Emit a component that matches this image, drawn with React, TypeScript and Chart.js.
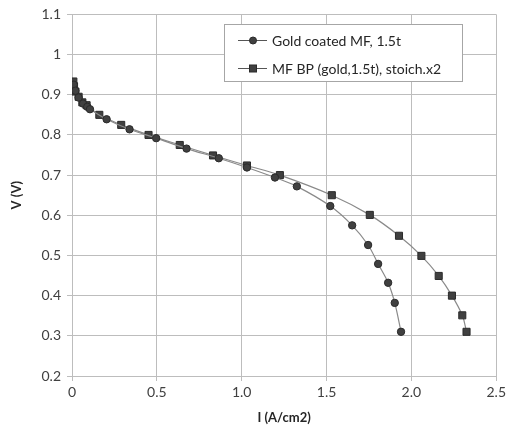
import React, { useEffect, useRef } from "react";
import { Chart, registerables } from "chart.js";

Chart.register(...registerables);

const goldI = [0.01, 0.02, 0.039, 0.065, 0.09, 0.106, 0.204, 0.339, 0.496, 0.675, 0.865, 1.031, 1.196, 1.325, 1.522, 1.651, 1.745, 1.804, 1.863, 1.902, 1.939];
const goldV = [0.925, 0.91, 0.893, 0.878, 0.87, 0.864, 0.839, 0.814, 0.792, 0.766, 0.742, 0.719, 0.694, 0.672, 0.623, 0.575, 0.526, 0.479, 0.432, 0.382, 0.31];

const bpI = [0.008, 0.012, 0.02, 0.039, 0.061, 0.086, 0.161, 0.29, 0.451, 0.635, 0.831, 1.031, 1.225, 1.531, 1.755, 1.927, 2.059, 2.161, 2.239, 2.3, 2.325];
const bpV = [0.933, 0.921, 0.908, 0.895, 0.881, 0.874, 0.85, 0.825, 0.8, 0.775, 0.749, 0.724, 0.7, 0.65, 0.601, 0.549, 0.499, 0.449, 0.4, 0.351, 0.31];

const seriesNames = ["Gold coated MF, 1.5t", "MF BP (gold,1.5t), stoich.x2"];
const xTitle = "I (A/cm2)";
const yTitle = "V (V)";

const FONT = "Lato, 'Open Sans', sans-serif";
const MARK = "#404040";
const MARK_BORDER = "#2a2a2a";
const LINE = "#8a8a8a";
const GRID = "#bdbdbd";

const legendPlugin = {
  id: "boxLegend",
  afterDraw(chart: any) {
    const ctx = chart.ctx;
    const left = 224, top = 24, w = 238, h = 57;
    ctx.save();
    ctx.fillStyle = "#ffffff";
    ctx.fillRect(left, top, w, h);
    ctx.strokeStyle = "#a6a6a6";
    ctx.lineWidth = 1;
    ctx.strokeRect(left + 0.5, top + 0.5, w, h);
    const rows = [40, 68];
    rows.forEach((y, i) => {
      ctx.strokeStyle = "#555555";
      ctx.beginPath();
      ctx.moveTo(238, y + 0.5);
      ctx.lineTo(267, y + 0.5);
      ctx.stroke();
      ctx.fillStyle = MARK;
      ctx.strokeStyle = MARK_BORDER;
      if (i === 0) {
        ctx.beginPath();
        ctx.arc(253, y + 0.5, 3.5, 0, Math.PI * 2);
        ctx.fill();
        ctx.stroke();
      } else {
        ctx.fillRect(249.5, y - 3, 7, 7);
        ctx.strokeRect(249.5, y - 3, 7, 7);
      }
      ctx.fillStyle = "#262626";
      ctx.font = "14px " + FONT;
      ctx.textBaseline = "middle";
      ctx.textAlign = "left";
      ctx.fillText(seriesNames[i], 272, y + 1);
    });
    ctx.restore();
  },
};

export default function App() {
  const ref = useRef<HTMLCanvasElement>(null);
  useEffect(() => {
    if (!ref.current) return;
    const mk = (xs: number[], ys: number[]) => xs.map((x, i) => ({ x, y: ys[i] }));
    const chart = new Chart(ref.current, {
      type: "scatter",
      data: {
        datasets: [
          {
            label: seriesNames[0],
            data: mk(goldI, goldV),
            showLine: true,
            tension: 0.35,
            borderColor: LINE,
            borderWidth: 1.2,
            pointStyle: "circle",
            pointRadius: 3.7,
            pointBackgroundColor: MARK,
            pointBorderColor: MARK_BORDER,
            pointBorderWidth: 1,
          },
          {
            label: seriesNames[1],
            data: mk(bpI, bpV),
            showLine: true,
            tension: 0.35,
            borderColor: LINE,
            borderWidth: 1.2,
            pointStyle: "rect",
            pointRadius: 5,
            pointBackgroundColor: MARK,
            pointBorderColor: MARK_BORDER,
            pointBorderWidth: 1,
          },
        ],
      },
      options: {
        animation: false,
        responsive: false,
        maintainAspectRatio: false,
        layout: { padding: { top: 13, right: 12, left: 0, bottom: 0 } },
        plugins: { legend: { display: false }, tooltip: { enabled: false } },
        scales: {
          x: {
            type: "linear",
            min: 0,
            max: 2.5,
            ticks: { stepSize: 0.5, color: "#404040", font: { family: FONT, size: 14 }, padding: 3, maxRotation: 0 },
            grid: { color: GRID, tickLength: 5, lineWidth: 1 },
            border: { color: GRID },
            title: { display: true, text: xTitle, color: "#262626", font: { family: FONT, size: 13, weight: "bold" }, padding: { top: 3 } },
            afterFit: (s: any) => { s.height = 54; },
          },
          y: {
            type: "linear",
            min: 0.2,
            max: 1.1,
            ticks: { stepSize: 0.1, color: "#404040", font: { family: FONT, size: 14 }, padding: 6, callback: (v: any) => String(Math.round(v * 10) / 10) },
            grid: { color: GRID, tickLength: 5, lineWidth: 1 },
            border: { color: GRID },
            title: { display: true, text: yTitle, color: "#262626", font: { family: FONT, size: 13, weight: "bold" }, padding: { top: 9, bottom: 4 } },
            afterFit: (s: any) => { s.width = 72; },
          },
        },
      },
      plugins: [legendPlugin],
    } as any);
    return () => chart.destroy();
  }, []);
  return (
    <div style={{ position: "absolute", left: 0, top: 0, width: 509, height: 430, background: "#fff" }}>
      <canvas ref={ref} width={509} height={430} style={{ width: 509, height: 430 }} />
    </div>
  );
}
